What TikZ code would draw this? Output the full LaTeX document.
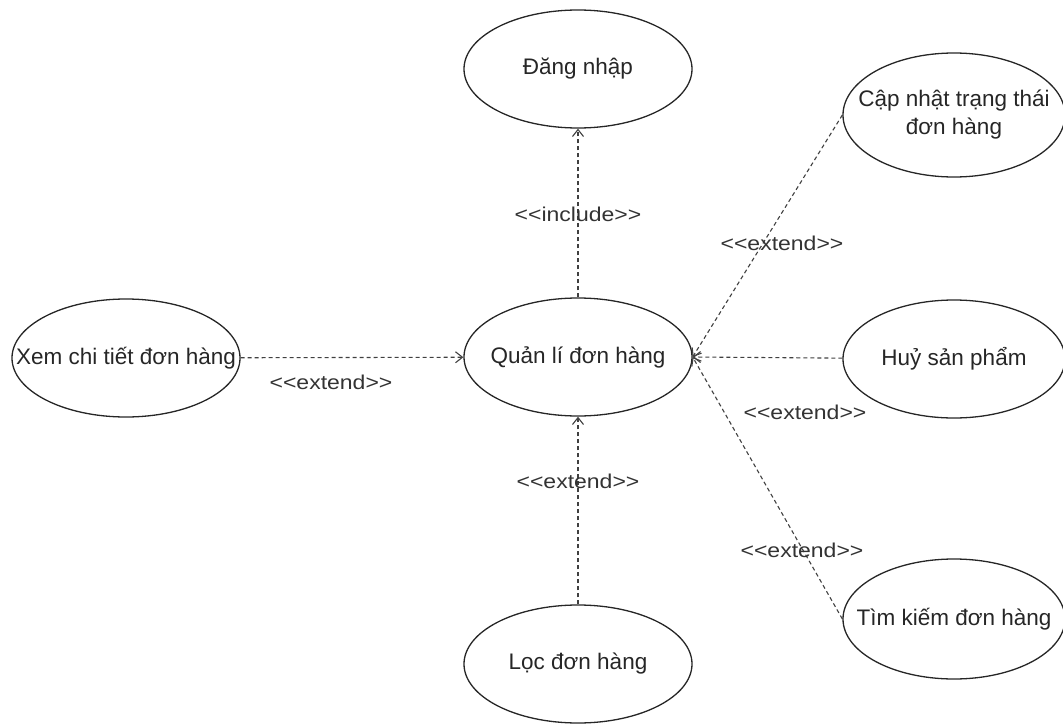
\documentclass[tikz,border=0pt]{standalone}
\usepackage{fontspec}
\setmainfont{Liberation Sans}[Ligatures=NoCommon]
\newfontfamily\stereofont{Liberation Sans}[FakeStretch=1.15,Ligatures=NoCommon]
\usetikzlibrary{shapes.geometric,arrows.meta}
% fixed-width text box, so the ellipse keeps its own size
\newcommand{\fixedw}[1]{\makebox[140pt][c]{#1}}
\begin{document}
\begin{tikzpicture}[x=1pt,y=-1pt,
  usecase/.style={ellipse,draw=black!85,line width=1.3pt,inner sep=0pt,
    minimum width=228pt,minimum height=118pt,align=center,
    font=\fontsize{22.5}{28}\selectfont,text=black!85},
  rel/.style={draw=black!75,line width=1.1pt,dash pattern=on 4pt off 3pt,
    -{Straight Barb[length=7pt,width=11pt,line width=1.1pt]}},
  stereo/.style={font=\stereofont\fontsize{20}{24}\selectfont,text=black!80,inner sep=1pt}]
\useasboundingbox (0,0) rectangle (1063,725);

% use cases
\node[usecase] (login)  at (578,69)  {\fixedw{Đăng nhập}};
\node[usecase] (manage) at (578,357) {\fixedw{Quản lí đơn hàng}};
\node[usecase] (detail) at (126,358) {\fixedw{Xem chi tiết đơn hàng}};
\node[usecase,minimum width=222pt,minimum height=124pt] (update) at (954,115)
  {\fixedw{Cập nhật trạng thái}\\\fixedw{đơn hàng}};
\node[usecase,minimum width=222pt] (cancel) at (954,359) {\fixedw{Huỷ sản phẩm}};
\node[usecase,minimum width=222pt,minimum height=120pt] (search) at (954,619) {\fixedw{Tìm kiếm đơn hàng}};
\node[usecase] (filter) at (578,664) {\fixedw{Lọc đơn hàng}};

% include / extend relations
\draw[rel] (manage) -- (login);
\draw[rel] (detail) -- (manage);
\draw[rel] (filter) -- (manage);
\draw[rel] (update.west) -- (manage.east);
\draw[rel] (cancel) -- (manage.east);
\draw[rel] (search.west) -- (manage.east);

% stereotypes
\node[stereo] (lblinclude) at (578,214) {<{}<include>{}>};
\node[stereo] (lbldetail)  at (331,382) {<{}<extend>{}>};
\node[stereo] (lblfilter)  at (578,481) {<{}<extend>{}>};
\node[stereo] (lblupdate)  at (782,243) {<{}<extend>{}>};
\node[stereo] (lblcancel)  at (805,412) {<{}<extend>{}>};
\node[stereo] (lblsearch)  at (802,550) {<{}<extend>{}>};
\end{tikzpicture}
\end{document}
